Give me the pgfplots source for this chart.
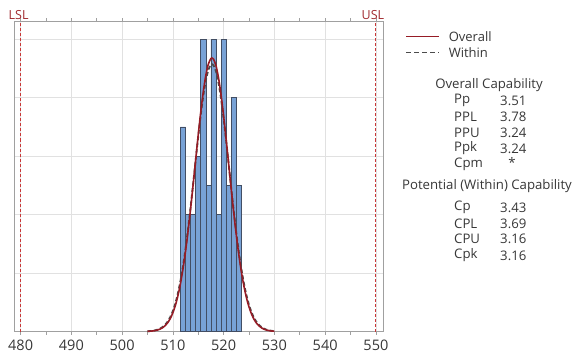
\documentclass[border=0pt]{standalone}
\usepackage{pgfplots}
\pgfplotsset{compat=1.18}
\usepackage{fontspec}
\setmainfont{Open Sans}
\usetikzlibrary{calc}
\definecolor{barfill}{RGB}{120,162,214}
\definecolor{baredge}{RGB}{66,78,100}
\definecolor{overallc}{RGB}{150,28,38}
\definecolor{withinc}{RGB}{75,75,75}
\definecolor{specc}{RGB}{200,55,55}
\definecolor{speclab}{RGB}{160,40,45}
\definecolor{txt}{RGB}{55,55,55}
\definecolor{gridc}{RGB}{225,225,225}
\definecolor{framec}{RGB}{160,160,160}
\begin{document}
\begin{tikzpicture}
\begin{axis}[
  name=ax,
  scale only axis,
  width=369pt, height=310pt,
  xmin=478.7, xmax=551.4,
  ymin=0, ymax=10.61,
  xtick={480,490,...,550},
  minor xtick={485,495,...,545},
  ytick={2,4,6,8,10},
  yticklabels={},
  major y tick style={draw=none},
  xmajorgrids, ymajorgrids,
  grid style={gridc, line width=0.7pt},
  axis line style={framec, line width=0.9pt},
  tick style={framec, line width=0.7pt},
  tick align=outside,
  major tick length=3pt, minor tick length=3pt,
  x tick label style={font=\fontsize{14.5}{16}\selectfont, text=txt, yshift=-2pt},
  /pgf/number format/assume math mode=true,
  /pgf/number format/1000 sep={},
  clip=false,
]
\addplot[ybar, bar width=1, bar shift=0pt, fill=barfill, draw=baredge, line width=0.7pt]
  coordinates {(512,7) (513,4) (514,4) (515,6) (516,10) (517,5) (518,10) (519,4) (520,10) (521,5) (522,8) (523,5)};
% Within (dashed)
\addplot[withinc, line width=1.8pt, dash pattern=on 4pt off 2.5pt, smooth] coordinates {
(505,0.0086) (505.5,0.0147) (506,0.0247) (506.5,0.0404) (507,0.0648) (507.5,0.1019) (508,0.1567) (508.5,0.2358) (509,0.3473) (509.5,0.5001) (510,0.7052) (510.5,0.9736) (511,1.314) (511.5,1.737) (512,2.246) (512.5,2.843) (513,3.522) (513.5,4.268) (514,5.063) (514.5,5.877) (515,6.677) (515.5,7.422) (516,8.076) (516.5,8.597) (517,8.958) (517.5,9.134) (517.7,9.150) (518,9.114) (518.5,8.900) (519,8.506) (519.5,7.954) (520,7.280) (520.5,6.520) (521,5.714) (521.5,4.902) (522,4.115) (522.5,3.380) (523,2.717) (523.5,2.137) (524,1.645) (524.5,1.240) (525,0.9142) (525.5,0.6596) (526,0.4657) (526.5,0.3219) (527,0.2177) (527.5,0.1440) (528,0.0933) (528.5,0.0591) (529,0.0366) (529.5,0.0223) (530,0.0132)};
% Overall (solid)
\addplot[overallc, line width=1.6pt, smooth] coordinates {
(505,0.0063) (505.5,0.0111) (506,0.0191) (506.5,0.0321) (507,0.0527) (507.5,0.0844) (508,0.1325) (508.5,0.2033) (509,0.3047) (509.5,0.4465) (510,0.6399) (510.5,0.8964) (511,1.228) (511.5,1.644) (512,2.152) (512.5,2.754) (513,3.445) (513.5,4.214) (514,5.039) (514.5,5.890) (515,6.731) (515.5,7.520) (516,8.214) (516.5,8.771) (517,9.157) (517.5,9.345) (517.7,9.362) (518,9.324) (518.5,9.095) (519,8.673) (519.5,8.085) (520,7.369) (520.5,6.566) (521,5.719) (521.5,4.871) (522,4.055) (522.5,3.300) (523,2.626) (523.5,2.043) (524,1.553) (524.5,1.155) (525,0.8397) (525.5,0.5966) (526,0.4145) (526.5,0.2815) (527,0.1869) (527.5,0.1213) (528,0.0770) (528.5,0.0477) (529,0.0290) (529.5,0.0172) (530,0.0100)};
% spec limits
\addplot[specc, line width=0.9pt, dash pattern=on 3pt off 2pt] coordinates {(480,0) (480,10.61)};
\addplot[specc, line width=0.9pt, dash pattern=on 3pt off 2pt] coordinates {(550,0) (550,10.61)};
\node[anchor=south, text=speclab, font=\fontsize{12.5}{14}\selectfont, inner sep=0pt, yshift=2pt, xshift=-2pt] at (axis cs:480,10.61) {LSL};
\node[anchor=south, text=speclab, font=\fontsize{12.5}{14}\selectfont, inner sep=0pt, yshift=2pt, xshift=-3pt] at (axis cs:550,10.61) {USL};
\end{axis}
% legend
\draw[overallc, line width=1.6pt] ($(ax.north east)+(23pt,-15pt)$) -- ++(33pt,0) node[right, text=txt, font=\fontsize{13}{14}\selectfont, inner sep=0pt, xshift=9pt] {Overall};
\draw[withinc, line width=1.6pt, dash pattern=on 5pt off 3pt] ($(ax.north east)+(23pt,-31pt)$) -- ++(33pt,0) node[right, text=txt, font=\fontsize{13}{14}\selectfont, inner sep=0pt, xshift=9pt] {Within};
\begin{scope}[every node/.style={text=txt, font=\fontsize{13.2}{14}\selectfont, inner sep=0pt}]
\node at ($(ax.north east)+(106pt,-64pt)$) {Overall Capability};
\node[anchor=west] at ($(ax.north east)+(71pt,-79pt)$) {Pp};
\node[anchor=west] at ($(ax.north east)+(117pt,-79pt)$) {3.51};
\node[anchor=west] at ($(ax.north east)+(71pt,-95.5pt)$) {PPL};
\node[anchor=west] at ($(ax.north east)+(117pt,-95.5pt)$) {3.78};
\node[anchor=west] at ($(ax.north east)+(71pt,-111.5pt)$) {PPU};
\node[anchor=west] at ($(ax.north east)+(117pt,-111.5pt)$) {3.24};
\node[anchor=west] at ($(ax.north east)+(71pt,-127pt)$) {Ppk};
\node[anchor=west] at ($(ax.north east)+(117pt,-127pt)$) {3.24};
\node[anchor=west] at ($(ax.north east)+(71pt,-143pt)$) {Cpm};
\node at ($(ax.north east)+(129pt,-141pt)$) {*};
\node at ($(ax.north east)+(104pt,-165pt)$) {Potential (Within) Capability};
\node[anchor=west] at ($(ax.north east)+(71pt,-186pt)$) {Cp};
\node[anchor=west] at ($(ax.north east)+(117pt,-186pt)$) {3.43};
\node[anchor=west] at ($(ax.north east)+(71pt,-202pt)$) {CPL};
\node[anchor=west] at ($(ax.north east)+(117pt,-202pt)$) {3.69};
\node[anchor=west] at ($(ax.north east)+(71pt,-217pt)$) {CPU};
\node[anchor=west] at ($(ax.north east)+(117pt,-217pt)$) {3.16};
\node[anchor=west] at ($(ax.north east)+(71pt,-234pt)$) {Cpk};
\node[anchor=west] at ($(ax.north east)+(117pt,-234pt)$) {3.16};
\end{scope}
\pgfresetboundingbox
\path ($(ax.south west)+(-14pt,-25pt)$) rectangle ($(ax.north east)+(190pt,21.5pt)$);
\end{tikzpicture}
\end{document}
